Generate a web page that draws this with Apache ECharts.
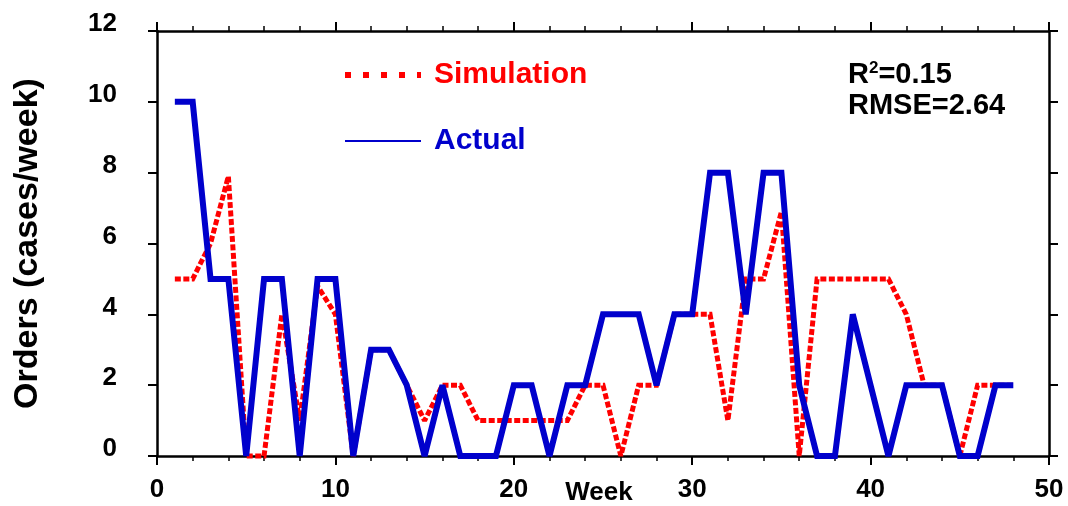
<!DOCTYPE html>
<html>
<head>
<meta charset="utf-8">
<script src="https://cdn.jsdelivr.net/npm/echarts@6/dist/echarts.min.js"></script>
<style>
html,body{margin:0;padding:0;background:#fff;}
#chart{width:1068px;height:506px;}
</style>
</head>
<body>
<div id="chart"></div>
<script>
const weeks = [1,2,3,4,5,6,7,8,9,10,11,12,13,14,15,16,17,18,19,20,21,22,23,24,25,26,27,28,29,30,31,32,33,34,35,36,37,38,39,40,41,42,43,44,45,46,47,48];
const actual = [10,10,5,5,0,5,5,0,5,5, 0,3,3,2,0,2,0,0,0,2, 2,0,2,2,4,4,4,2,4,4, 8,8,4,8,8,2,0,0,4,2, 0,2,2,2,0,0,2,2];
const simulation = [5,5,6,7.9,0,0,4,1,4.8,4, 0,3,3,2,1,2,2,1,1,1, 1,1,1,2,2,0,2,2,4,4, 4,1,5,5,6.9,0,5,5,5,5, 5,4,2,2,0,2,2,2];
const xTicks = {min:0, max:50, interval:10};
const yTicks = {min:0, max:12, interval:2};
const seriesNames = ['Simulation','Actual'];
const statLines = ['R', '2', '=0.15', 'RMSE=2.64'];

const FONT = '"Liberation Sans", Arial, Helvetica, sans-serif';
const RED = '#ff0000';
const BLUE = '#0000cc';

const pairs = arr => weeks.map((w,i)=>[w, arr[i]]);

const axisLineStyle = {show:true, onZero:false, lineStyle:{color:'#000', width:2.5}};
const chart = echarts.init(document.getElementById('chart'), null, {renderer:'canvas'});

chart.setOption({
  animation:false,
  backgroundColor:'#fff',
  grid:{left:157, right:19, top:31, bottom:50, containLabel:false, outerBoundsMode:'none'},
  xAxis:[{
    type:'value', position:'bottom', min:xTicks.min, max:xTicks.max, interval:xTicks.interval,
    axisLine:axisLineStyle,
    axisTick:{show:true, inside:false, length:9, lineStyle:{color:'#000', width:2}},
    minorTick:{show:true, splitNumber:5, length:5, lineStyle:{color:'#000', width:1.5}},
    splitLine:{show:false},
    axisLabel:{show:true, margin:34, verticalAlign:'middle', fontSize:26, fontWeight:'bold', fontFamily:FONT, color:'#000'},
    name:'Week', nameLocation:'middle', nameGap:37, nameMoveOverlap:false,
    nameTextStyle:{fontSize:26, fontWeight:'bold', fontFamily:FONT, color:'#000', verticalAlign:'middle', padding:[0,8,0,0]}
  },{
    type:'value', position:'top', min:xTicks.min, max:xTicks.max, interval:xTicks.interval,
    axisLine:axisLineStyle,
    axisTick:{show:true, inside:false, length:9, lineStyle:{color:'#000', width:2}},
    minorTick:{show:true, splitNumber:5, length:5, lineStyle:{color:'#000', width:1.5}},
    splitLine:{show:false},
    axisLabel:{show:false}
  }],
  yAxis:[{
    type:'value', position:'left', min:yTicks.min, max:yTicks.max, interval:yTicks.interval,
    axisLine:axisLineStyle,
    axisTick:{show:true, inside:false, length:9, lineStyle:{color:'#000', width:2}},
    splitLine:{show:false},
    axisLabel:{show:true, margin:40, fontSize:26, fontWeight:'bold', fontFamily:FONT, color:'#000', verticalAlign:'bottom', lineHeight:14},
    name:'Orders (cases/week)', nameLocation:'middle', nameGap:129, nameMoveOverlap:false,
    nameTextStyle:{fontSize:34, fontWeight:'bold', fontFamily:FONT, color:'#000', verticalAlign:'middle'}
  },{
    type:'value', position:'right', min:yTicks.min, max:yTicks.max, interval:yTicks.interval,
    axisLine:axisLineStyle,
    axisTick:{show:true, inside:false, length:9, lineStyle:{color:'#000', width:2}},
    splitLine:{show:false},
    axisLabel:{show:false}
  }],
  legend:{
    orient:'vertical', left:342, top:60, padding:0,
    itemWidth:76, itemHeight:30, itemGap:36,
    textStyle:{fontSize:30, fontWeight:'bold', fontFamily:FONT, lineHeight:30, padding:[0,0,0,8]},
    data:[
      {name:seriesNames[0], lineStyle:{width:6, type:[6,12], color:RED}, itemStyle:{opacity:0}, textStyle:{color:RED}},
      {name:seriesNames[1], lineStyle:{width:2, type:'solid', color:BLUE}, itemStyle:{opacity:0}, textStyle:{color:BLUE}}
    ]
  },
  graphic:[
    {type:'text', x:848, y:75, style:{
      text:'{a|'+statLines[0]+'}{s|'+statLines[1]+'}{a|'+statLines[2]+'}',
      verticalAlign:'middle', align:'left',
      rich:{
        a:{fontSize:29, fontWeight:'bold', fontFamily:FONT, fill:'#000', lineHeight:30},
        s:{fontSize:17, fontWeight:'bold', fontFamily:FONT, fill:'#000', verticalAlign:'top', lineHeight:22}
      }
    }},
    {type:'text', x:848, y:106, style:{
      text:statLines[3], verticalAlign:'middle', align:'left',
      fontSize:29, fontWeight:'bold', fontFamily:FONT, fill:'#000'
    }}
  ],
  series:[
    {name:seriesNames[0], type:'line', data:pairs(simulation), symbol:'none', clip:false,
     lineStyle:{color:RED, width:5, type:[6,2.5], join:'miter', miterLimit:2}, itemStyle:{color:RED}, z:2},
    {name:seriesNames[1], type:'line', data:pairs(actual), symbol:'none', clip:false,
     lineStyle:{color:BLUE, width:6, type:'solid', join:'miter', miterLimit:2}, itemStyle:{color:BLUE}, z:3}
  ]
});
</script>
</body>
</html>
